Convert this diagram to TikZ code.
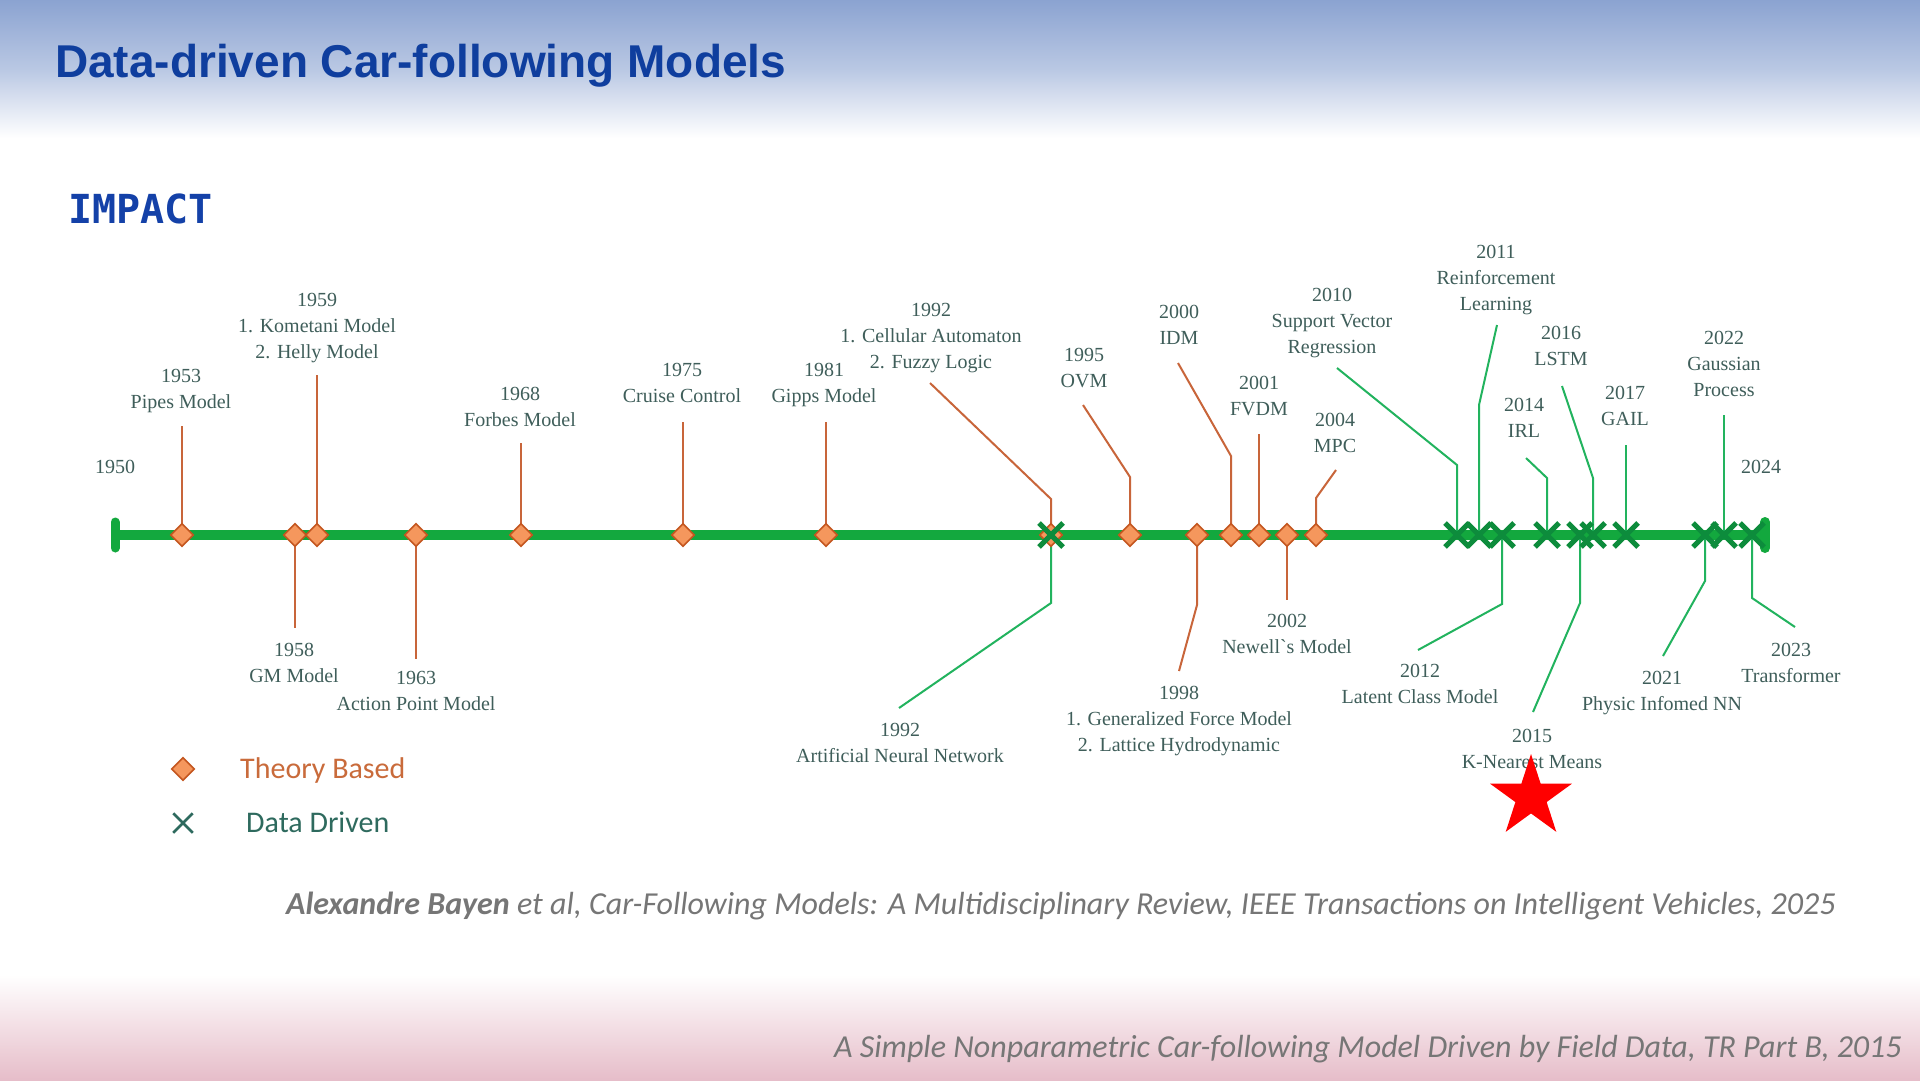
\documentclass[tikz,border=0pt]{standalone}
\usepackage{fontspec}
\setmainfont{Liberation Serif}
\newfontfamily\titlefont{Liberation Sans}
\newfontfamily\impfont{DejaVu Sans Mono}
\newfontfamily\calfont{Carlito}
\usetikzlibrary{shapes.geometric,shapes.misc}
\pgfdeclarelayer{bg}
\pgfsetlayers{bg,main}
\definecolor{headblue}{HTML}{8BA3D1}
\definecolor{titleblue}{HTML}{0F3E9E}
\definecolor{impblue}{HTML}{1441A8}
\definecolor{tlgreen}{HTML}{13A83E}
\definecolor{xgreen}{HTML}{0D8C3C}
\definecolor{stemgreen}{HTML}{22B35E}
\definecolor{stemorange}{HTML}{C8653A}
\definecolor{dfill}{HTML}{F5975D}
\definecolor{ddraw}{HTML}{C4561F}
\definecolor{labtext}{HTML}{3F5E5A}
\definecolor{theorytext}{HTML}{C96B3B}
\definecolor{datatext}{HTML}{2E6A5E}
\definecolor{citegray}{HTML}{767676}
\definecolor{footpink}{HTML}{E6BDC9}
\tikzset{
  lab/.style={font=\fontsize{20}{26}\selectfont, text=labtext, align=center, anchor=north, inner sep=0pt},
  dmark/.style={diamond, aspect=1, draw=ddraw, fill=dfill, line width=1.6pt, minimum width=23pt, minimum height=23pt, inner sep=0pt},
  xmark/.style={cross out, draw=xgreen, line width=5pt, minimum size=19pt, inner sep=0pt},
  stemO/.style={draw=stemorange, line width=2pt},
  stemG/.style={draw=stemgreen, line width=2pt},
  tl/.style={draw=tlgreen, line width=10pt},
  legtext/.style={anchor=base west, inner sep=0pt, font=\calfont\fontsize{30}{36}\selectfont},
  citetext/.style={inner sep=0pt, text=citegray, font=\calfont\itshape\fontsize{32}{38}\selectfont}
}
\begin{document}
\begin{tikzpicture}[x=1pt, y=-1pt]
\useasboundingbox (0,0) rectangle (1920,1080);
% markers
\foreach \n/\x in {1953/182,1958/295,1959/317,1963/416,1968/521,1975/683,1981/826,1992/1051,1995/1130,1998/1197,2000/1231,2001/1259,2002/1287,2004/1316}
  \node[dmark] (t\n) at (\x,535) {};
\foreach \n/\x in {1992/1051,2010/1457,2011/1479,2012/1502,2014/1547,2015/1580,2016/1593,2017/1626,2021/1705,2022/1724,2023/1752}
  \node[xmark] (d\n) at (\x,535) {};
% coordinates
\coordinate (tstart) at (115,535);
\coordinate (tend) at (1765,535);
\coordinate (e1953) at (182,426);
\coordinate (e1958) at (295,628);
\coordinate (e1959) at (317,375);
\coordinate (e1963) at (416,659);
\coordinate (e1968) at (521,443);
\coordinate (e1975) at (683,422);
\coordinate (e1981) at (826,422);
\coordinate (b1992a) at (1051,499); \coordinate (e1992a) at (930,383);
\coordinate (b1992b) at (1051,603); \coordinate (e1992b) at (899,708);
\coordinate (b1995) at (1130,477); \coordinate (e1995) at (1083,405);
\coordinate (b1998) at (1197,605); \coordinate (e1998) at (1179,671);
\coordinate (b2000) at (1231,456); \coordinate (e2000) at (1178,363);
\coordinate (e2001) at (1259,434);
\coordinate (e2002) at (1287,600);
\coordinate (b2004) at (1316,498); \coordinate (e2004) at (1336,470);
\coordinate (b2010) at (1457,465); \coordinate (e2010) at (1337,368);
\coordinate (b2011) at (1479,405); \coordinate (e2011) at (1497,325);
\coordinate (b2012) at (1502,604); \coordinate (e2012) at (1418,650);
\coordinate (b2014) at (1547,478); \coordinate (e2014) at (1526,458);
\coordinate (b2015) at (1580,603); \coordinate (e2015) at (1533,712);
\coordinate (b2016) at (1593,478); \coordinate (e2016) at (1562,386);
\coordinate (e2017) at (1626,445);
\coordinate (b2021) at (1705,581); \coordinate (e2021) at (1663,656);
\coordinate (e2022) at (1724,415);
\coordinate (b2023) at (1752,598); \coordinate (e2023) at (1795,627);
\begin{pgfonlayer}{bg}
  \fill[white] (0,0) rectangle (1920,1080);
  \shade[top color=headblue, bottom color=white, middle color=headblue!60] (0,0) rectangle (1920,138);
  \shade[top color=white, bottom color=footpink] (0,975) rectangle (1920,1080);
  % timeline
  \draw[tl] (tstart) -- (tend);
  \draw[draw=tlgreen, line width=9pt, line cap=round] ([yshift=-13pt]tstart) -- ([yshift=13pt]tstart);
  \draw[draw=tlgreen, line width=10pt, line cap=round] ([yshift=-13pt]tend) -- ([yshift=13pt]tend);
  % stems
  \draw[stemO] (t1953.center) -- (e1953);
  \draw[stemO] (t1958.center) -- (e1958);
  \draw[stemO] (t1959.center) -- (e1959);
  \draw[stemO] (t1963.center) -- (e1963);
  \draw[stemO] (t1968.center) -- (e1968);
  \draw[stemO] (t1975.center) -- (e1975);
  \draw[stemO] (t1981.center) -- (e1981);
  \draw[stemO] (t1992.center) -- (b1992a) -- (e1992a);
  \draw[stemG] (d1992.center) -- (b1992b) -- (e1992b);
  \draw[stemO] (t1995.center) -- (b1995) -- (e1995);
  \draw[stemO] (t1998.center) -- (b1998) -- (e1998);
  \draw[stemO] (t2000.center) -- (b2000) -- (e2000);
  \draw[stemO] (t2001.center) -- (e2001);
  \draw[stemO] (t2002.center) -- (e2002);
  \draw[stemO] (t2004.center) -- (b2004) -- (e2004);
  \draw[stemG] (d2010.center) -- (b2010) -- (e2010);
  \draw[stemG] (d2011.center) -- (b2011) -- (e2011);
  \draw[stemG] (d2012.center) -- (b2012) -- (e2012);
  \draw[stemG] (d2014.center) -- (b2014) -- (e2014);
  \draw[stemG] (d2015.center) -- (b2015) -- (e2015);
  \draw[stemG] (d2016.center) -- (b2016) -- (e2016);
  \draw[stemG] (d2017.center) -- (e2017);
  \draw[stemG] (d2021.center) -- (b2021) -- (e2021);
  \draw[stemG] (d2022.center) -- (e2022);
  \draw[stemG] (d2023.center) -- (b2023) -- (e2023);
\end{pgfonlayer}
% titles
\node[anchor=base west, inner sep=0pt, text=titleblue, font=\titlefont\bfseries\fontsize{46}{52}\selectfont] (title) at (55,77) {Data-driven Car-following Models};
\node[anchor=base west, inner sep=0pt, text=impblue, font=\impfont\bfseries\fontsize{40}{45}\selectfont] (impact) at (68,223) {IMPACT};
% labels
\node[lab] (l1950) at (115,460) {1950};
\node[lab] (l1953) at (181,369) {1953\\Pipes Model};
\node[lab] (l1958) at (294,643) {1958\\GM Model};
\node[lab] (l1959) at (317,293) {1959\\1. Kometani Model\\2. Helly Model};
\node[lab] (l1963) at (416,671) {1963\\Action Point Model};
\node[lab] (l1968) at (520,387) {1968\\Forbes Model};
\node[lab] (l1975) at (682,363) {1975\\Cruise Control};
\node[lab] (l1981) at (824,363) {1981\\Gipps Model};
\node[lab] (l1992a) at (931,303) {1992\\1. Cellular Automaton\\2. Fuzzy Logic};
\node[lab] (l1992b) at (900,723) {1992\\Artificial Neural Network};
\node[lab] (l1995) at (1084,348) {1995\\OVM};
\node[lab] (l1998) at (1179,686) {1998\\1. Generalized Force Model\\2. Lattice Hydrodynamic};
\node[lab] (l2000) at (1179,305) {2000\\IDM};
\node[lab] (l2001) at (1259,376) {2001\\FVDM};
\node[lab] (l2002) at (1287,614) {2002\\Newell\textasciigrave s Model};
\node[lab] (l2004) at (1335,413) {2004\\MPC};
\node[lab] (l2010) at (1332,288) {2010\\Support Vector\\Regression};
\node[lab] (l2011) at (1496,245) {2011\\Reinforcement\\Learning};
\node[lab] (l2012) at (1420,664) {2012\\Latent Class Model};
\node[lab] (l2014) at (1524,398) {2014\\IRL};
\node[lab] (l2015) at (1532,729) {2015\\K-Nearest Means};
\node[lab] (l2016) at (1561,326) {2016\\LSTM};
\node[lab] (l2017) at (1625,386) {2017\\GAIL};
\node[lab] (l2021) at (1662,671) {2021\\Physic Infomed NN};
\node[lab] (l2022) at (1724,331) {2022\\Gaussian\\Process};
\node[lab] (l2023) at (1791,643) {2023\\Transformer};
\node[lab] (l2024) at (1761,460) {2024};
% legend
\node[dmark] (legT) at (183,769) {};
\node[cross out, draw=datatext, line width=2.5pt, minimum size=17pt, inner sep=0pt] (legD) at (183,823) {};
\node[legtext, text=theorytext] (legTt) at (240,778) {Theory Based};
\node[legtext, text=datatext] (legDt) at (246,832) {Data Driven};
% citations
\node[citetext, anchor=base west] (cite1) at (286,914) {\textbf{Alexandre Bayen} et al, Car-Following Models: A Multidisciplinary Review, IEEE Transactions on Intelligent Vehicles, 2025};
\node[citetext, anchor=base east] (cite2) at (1902,1057) {A Simple Nonparametric Car-following Model Driven by Field Data, TR Part B, 2015};
% star
\node[star, star points=5, star point ratio=2.618, fill=red, minimum size=86pt, inner sep=0pt] (star) at (1531,797) {};
\end{tikzpicture}
\end{document}
